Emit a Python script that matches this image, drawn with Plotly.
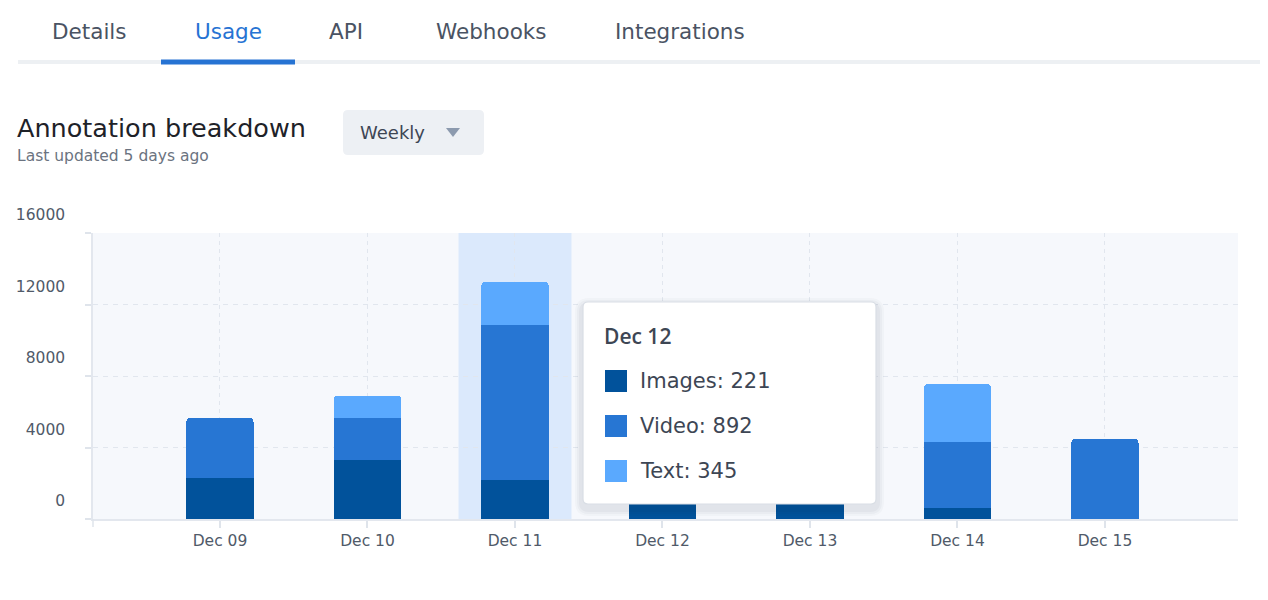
import plotly.graph_objects as go

# ---------------- data ----------------
dates = ["Dec 09", "Dec 10", "Dec 11", "Dec 12", "Dec 13", "Dec 14", "Dec 15"]
images = [2300, 3300, 2210, 3800, 2900, 630, 0]
video = [3360, 2360, 8640, 4200, 3500, 3690, 4490]
text = [0, 1240, 2430, 1600, 1800, 3230, 0]
y_ticks = [0, 4000, 8000, 12000, 16000]
tabs = ["Details", "Usage", "API", "Webhooks", "Integrations"]
active_tab = "Usage"
highlight_date = "Dec 11"
tooltip_date = "Dec 12"
tooltip_series = ["Images", "Video", "Text"]
tooltip_values = [221, 892, 345]
chart_title = "Annotation breakdown"
chart_subtitle = "Last updated 5 days ago"
dropdown_label = "Weekly"

# ---------------- styles ----------------
COLORS = {"Images": "#01529B", "Video": "#2776D3", "Text": "#5AA9FE"}
INK = "#3D4654"
TAB_INK = "#4A5363"
BLUE = "#2673D3"
UI_FONT = "DejaVu Sans"
AX_FONT = "DejaVu Sans"

PAGE_OFF = 8
FIG_W, FIG_H = 1252, 584
PL, PR, PT, PB = 93, 1238, 233, 519  # plot area in page pixels
TXT_PAD = 3  # annotation text inset


def fx(x):
    return (x - PL) / (PR - PL)


def fy(y):
    return (PB - y) / (PB - PT)


def rrect(x0, y0, x1, y1, r):
    rx, ry = r / (PR - PL), r / (PB - PT)
    X0, X1, Yt, Yb = fx(x0), fx(x1), fy(y0), fy(y1)
    return (f"M{X0+rx},{Yt} L{X1-rx},{Yt} Q{X1},{Yt} {X1},{Yt-ry} "
            f"L{X1},{Yb+ry} Q{X1},{Yb} {X1-rx},{Yb} L{X0+rx},{Yb} "
            f"Q{X0},{Yb} {X0},{Yb+ry} L{X0},{Yt-ry} Q{X0},{Yt} {X0+rx},{Yt} Z")


def label(txt, x, y, size, color, family=UI_FONT, weight=None):
    f = dict(family=family, size=size, color=color)
    if weight:
        f["weight"] = weight
    return dict(text=txt, xref="paper", yref="paper", x=fx(x - TXT_PAD), y=fy(y),
                xanchor="left", yanchor="middle", showarrow=False, font=f)


fig = go.Figure()
for name, vals in (("Images", images), ("Video", video), ("Text", text)):
    fig.add_trace(go.Bar(x=dates, y=vals, name=name, width=0.455,
                         marker=dict(color=COLORS[name], line=dict(width=0)),
                         hoverinfo="skip"))

shapes = []
annotations = []

# highlighted column
hi = dates.index(highlight_date)
shapes.append(dict(type="rect", xref="x", yref="paper", x0=hi - 0.383, x1=hi + 0.383,
                   y0=0, y1=1, fillcolor="#DBE9FC", line=dict(width=0), layer="below"))

# tab bar
shapes.append(dict(type="rect", xref="paper", yref="paper", x0=fx(18), x1=fx(1268),
                   y0=fy(64), y1=fy(60), fillcolor="#EDF0F3", line=dict(width=0), layer="above"))
tab_x = [53, 196, 330, 437, 616]
shapes.append(dict(type="rect", xref="paper", yref="paper", x0=fx(161), x1=fx(295),
                   y0=fy(64.5), y1=fy(59.5), fillcolor=BLUE, line=dict(width=0), layer="above"))
for t, x in zip(tabs, tab_x):
    annotations.append(label(t, x, 31, 21.5, BLUE if t == active_tab else TAB_INK))

# title block
annotations.append(label(chart_title, 18, 128, 25.5, "#1E2228"))
annotations.append(label(chart_subtitle, 18, 156, 15.5, "#6B7380"))

# dropdown
shapes.append(dict(type="path", xref="paper", yref="paper", path=rrect(343, 110, 484, 155, 5),
                   fillcolor="#EDF0F4", line=dict(width=0), layer="above"))
annotations.append(label(dropdown_label, 361, 132, 18, INK))
shapes.append(dict(type="path", xref="paper", yref="paper",
                   path=f"M{fx(446)},{fy(128)} L{fx(460)},{fy(128)} L{fx(453)},{fy(137)} Z",
                   fillcolor="#8C9AAE", line=dict(width=0), layer="above"))

# small tick under y-axis
shapes.append(dict(type="line", xref="paper", yref="paper", x0=0, x1=0, y0=fy(519), y1=fy(527),
                   line=dict(color="#DFE4EB", width=1.5), layer="above"))

# tooltip
for i, a in enumerate([0.025, 0.03, 0.035]):
    g = 8 - 2 * i
    shapes.append(dict(type="path", xref="paper", yref="paper",
                       path=rrect(583 - g, 302 - g + 4, 876 + g, 504 + g + 4, 6 + g),
                       fillcolor=f"rgba(20,30,50,{a})", line=dict(width=0), layer="above"))
shapes.append(dict(type="path", xref="paper", yref="paper", path=rrect(583, 302, 876, 504, 5),
                   fillcolor="#FFFFFF", line=dict(color="#D9DEE5", width=1.2), layer="above"))
annotations.append(label(tooltip_date, 605, 336, 21, INK, family="Open Sans", weight=600))
for k, (s, v) in enumerate(zip(tooltip_series, tooltip_values)):
    cy = 381 + 45 * k
    shapes.append(dict(type="rect", xref="paper", yref="paper", x0=fx(605), x1=fx(627),
                       y0=fy(cy + 11), y1=fy(cy - 11), fillcolor=COLORS[s],
                       line=dict(width=0), layer="above"))
    annotations.append(label(f"{s}: {v}", 641, cy, 21, INK))

tickfont = dict(family=AX_FONT, size=15.5, color="#505A69")
fig.update_layout(
    width=FIG_W, height=FIG_H, autosize=False,
    margin=dict(l=PL - PAGE_OFF, r=FIG_W - (PR - PAGE_OFF), t=PT - PAGE_OFF,
                b=FIG_H - (PB - PAGE_OFF), autoexpand=False),
    paper_bgcolor="#FFFFFF", plot_bgcolor="#F6F8FC",
    barmode="stack", barcornerradius=4, showlegend=False, hovermode=False,
    shapes=shapes, annotations=annotations,
    xaxis=dict(type="category", categoryorder="array", categoryarray=dates,
               range=[-0.861, 6.902], showgrid=True, gridcolor="#E1E6EE", griddash="4px,4px",
               gridwidth=1, ticks="outside", ticklen=7, tickcolor="#DFE4EB", tickwidth=1.5,
               showline=True, linecolor="#E3E7EE", linewidth=1.5, zeroline=False,
               tickfont=tickfont, ticklabelstandoff=0, fixedrange=True, automargin=False),
    yaxis=dict(range=[0, 16000], tickmode="array", tickvals=y_ticks,
               ticktext=[str(v) for v in y_ticks], showgrid=True, gridcolor="#E1E6EE",
               griddash="5px,5px", gridwidth=1, ticks="outside", ticklen=6, tickcolor="#DFE4EB",
               tickwidth=1.5, showline=True, linecolor="#E3E7EE", linewidth=1.5, zeroline=False,
               tickfont=tickfont, ticklabelshift=-18, ticklabelstandoff=17, fixedrange=True,
               automargin=False),
)

fig.write_html("out.html")
